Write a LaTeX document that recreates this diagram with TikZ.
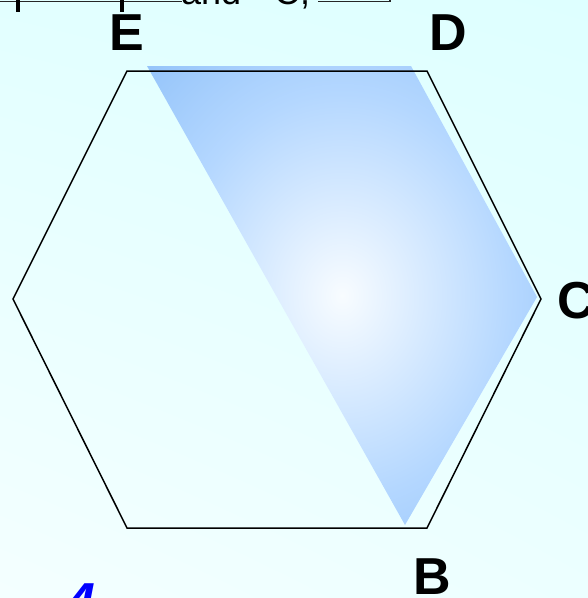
\documentclass[tikz,border=0pt]{standalone}
\usepackage{fontspec}
\setmainfont{Liberation Sans}
\usetikzlibrary{shadings}
\definecolor{glowA}{RGB}{248,252,255}
\definecolor{glowB}{RGB}{180,215,255}
\definecolor{glowC}{RGB}{150,197,250}
\definecolor{bgTL}{RGB}{226,255,255}
\definecolor{bgTR}{RGB}{222,255,255}
\definecolor{bgBL}{RGB}{244,255,255}
\definecolor{bgBR}{RGB}{236,255,255}
\pgfdeclareradialshading{blueglow}{\pgfpoint{0bp}{0bp}}{%
  color(0bp)=(glowA);
  color(22bp)=(glowB);
  color(35bp)=(glowC);
  color(50bp)=(glowC)}
\begin{document}
\begin{tikzpicture}[x=1pt,y=-1pt,
  lbl/.style={font=\fontsize{52}{52}\selectfont\bfseries, inner sep=0pt, anchor=base},
  frag/.style={font=\fontsize{36}{36}\selectfont, inner sep=0pt, anchor=base west},
  hexline/.style={draw=black, line width=1.5pt, line join=miter},
  boxline/.style={draw=black!85, line width=1.6pt}]
\useasboundingbox (0,0) rectangle (588,598);
\shade[upper left=bgTL, upper right=bgTR, lower left=bgBL, lower right=bgBR]
  (0,0) rectangle (588,598);
% top fragments
\draw[boxline] (0,1.5) -- (182,1.5);
\draw[boxline] (318,1.5) -- (390,1.5) -- (390,-5);
\draw[line width=4pt] (18,-2) -- (18,12);
\draw[line width=4pt] (122,-2) -- (122,12);
\node[frag] (t1) at (181,4) {and};
\node[frag] (t2) at (274,4) {C,};
% hexagon vertices
\coordinate (E) at (127,71);
\coordinate (D) at (427,71);
\coordinate (C) at (541,299);
\coordinate (B) at (427,528);
\coordinate (F) at (127,528);
\coordinate (A) at (13,299);
% blue quadrilateral
\coordinate (q1) at (147,66);
\coordinate (q2) at (411,66);
\coordinate (q3) at (537,297);
\coordinate (q4) at (405,525);
\shade[shading=blueglow] (q1) -- (q2) -- (q3) -- (q4) -- cycle;
\draw[hexline] (E) -- (D) -- (C) -- (B) -- (F) -- (A) -- cycle;
% labels
\node[lbl] (lE) at (127,50) {E};
\node[lbl] (lD) at (448,50) {D};
\node[lbl] (lC) at (576,318) {C};
\node[lbl] (lB) at (432,594) {B};
\node[lbl, anchor=base west, text=blue, font=\fontsize{52}{52}\selectfont\bfseries\itshape] (l4) at (66,619) {4};
\end{tikzpicture}
\end{document}
